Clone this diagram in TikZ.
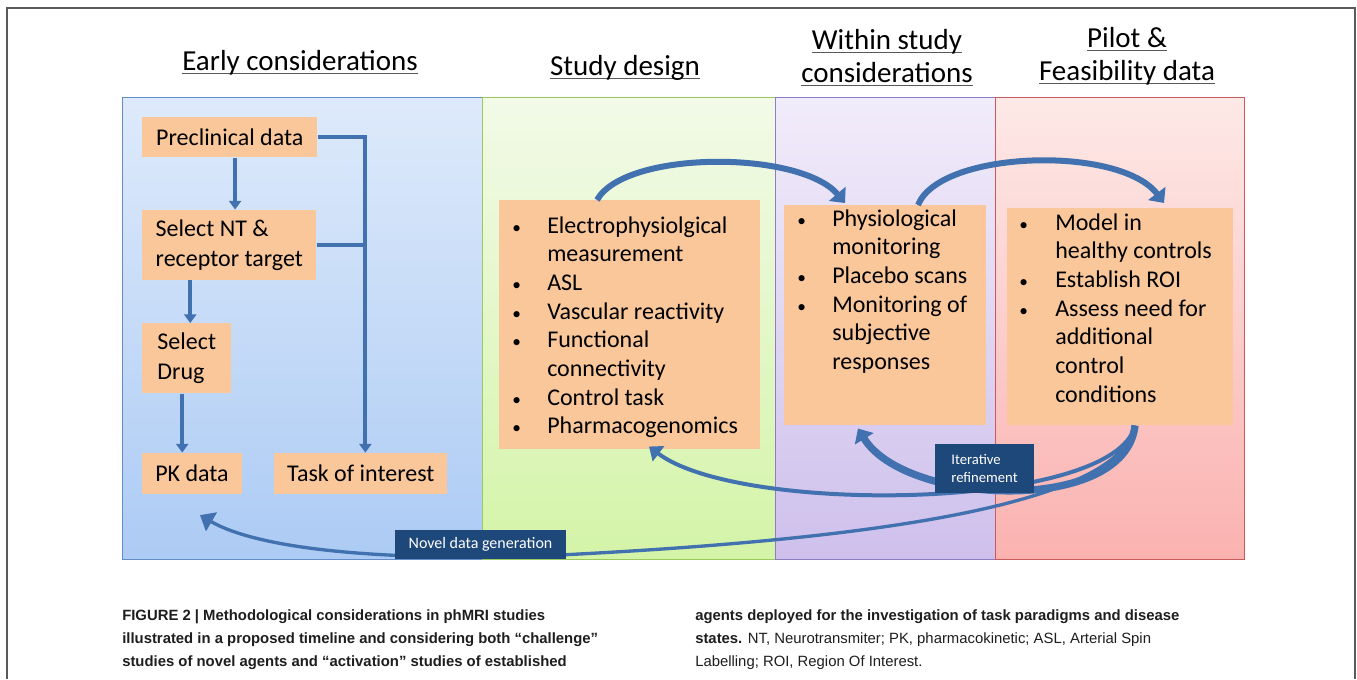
\documentclass[tikz,border=0pt]{standalone}
\usepackage{fontspec}
\setmainfont{Carlito}
\newfontfamily\capfont{Liberation Sans}
\usetikzlibrary{arrows.meta,positioning,calc}

\definecolor{earlytop}{RGB}{222,234,251}
\definecolor{earlybot}{RGB}{172,203,244}
\definecolor{earlyline}{RGB}{100,140,200}
\definecolor{designtop}{RGB}{242,250,232}
\definecolor{designbot}{RGB}{212,244,168}
\definecolor{designline}{RGB}{155,200,95}
\definecolor{withintop}{RGB}{241,236,250}
\definecolor{withinbot}{RGB}{206,192,236}
\definecolor{withinline}{RGB}{140,125,195}
\definecolor{pilottop}{RGB}{253,233,231}
\definecolor{pilotbot}{RGB}{250,178,176}
\definecolor{pilotline}{RGB}{205,90,90}
\definecolor{boxfill}{RGB}{249,199,154}
\definecolor{arrowblue}{RGB}{66,113,175}
\definecolor{tagblue}{RGB}{31,72,122}
\definecolor{framegray}{RGB}{90,90,90}
\definecolor{captext}{RGB}{30,30,30}

% underlined heading text
\newcommand{\hul}[1]{\setbox0\hbox{#1}\rlap{\color{black!65}\rule[-2.6pt]{\wd0}{0.9pt}}\box0}
% small list bullet
\newcommand{\bul}{{\fontsize{13pt}{13pt}\selectfont\textbullet}}

\tikzset{
  panel/.style={anchor=north west, inner sep=0pt, line width=1pt},
  stepbox/.style={fill=boxfill, anchor=north west, inner xsep=9.75pt, inner ysep=0pt, align=left, font=\fontsize{18pt}{22.5pt}\selectfont},
  listbox/.style={fill=boxfill, anchor=north west, inner sep=0pt, font=\fontsize{18pt}{21.5pt}\selectfont},
  head/.style={align=center, font=\fontsize{21.75pt}{24.75pt}\selectfont},
  flow/.style={draw=arrowblue, line width=3pt, -{Triangle[width=9pt,length=6.5pt]}},
  flowline/.style={draw=arrowblue, line width=3pt},
  swoop/.style={draw=arrowblue, line width=3.5pt, -{Triangle[width=16pt,length=9pt]}},
  tag/.style={fill=tagblue, text=white, inner sep=0pt, align=left},
  caption/.style={anchor=north west, inner sep=0pt, align=left, text=captext, font=\capfont\fontsize{11.15pt}{17.6pt}\selectfont}
}

\begin{document}
\begin{tikzpicture}[x=0.75pt, y=-0.75pt]
        \useasboundingbox (0,0) rectangle (1357,679);
        \fill[white] (0,0) rectangle (1357,679);
        \draw[framegray, line width=0.9pt] (7,679) |- (1355,8) -- (1355,679);

        % Panels
        \node[panel, top color=earlytop, bottom color=earlybot, draw=earlyline, minimum width=270pt, minimum height=346.5pt] (pEarly) at (122,97) {};
        \node[panel, top color=designtop, bottom color=designbot, draw=designline, minimum width=219.75pt, minimum height=346.5pt] (pDesign) at (482,97) {};
        \node[panel, top color=withintop, bottom color=withinbot, draw=withinline, minimum width=165pt, minimum height=346.5pt] (pWithin) at (775,97) {};
        \node[panel, top color=pilottop, bottom color=pilotbot, draw=pilotline, minimum width=186.75pt, minimum height=346.5pt] (pPilot) at (995,97) {};

        % Headings
        \node[head] (hEarly) at (300,63) {\hul{Early considerations}};
        \node[head] (hDesign) at (625,68) {\hul{Study design}};
        \node[head] (hWithin) at (887,58) {\hul{Within study}\\\hul{considerations}};
        \node[head] (hPilot) at (1127,56) {\hul{Pilot \&}\\\hul{Feasibility data}};

        % Early considerations
        \node[stepbox, minimum width=131.25pt, minimum height=30pt] (pre) at (142,117) {Preclinical data};
        \node[stepbox, below=39pt of pre.south west, anchor=north west, minimum width=130.5pt, minimum height=52.5pt] (nt) {Select NT \&\\receptor target};
        \node[stepbox, below=32.25pt of nt.south west, anchor=north west, minimum width=66.75pt, minimum height=52.5pt] (drug) {Select\\Drug};
        \node[stepbox, below=44.25pt of drug.south west, anchor=north west, minimum width=73.5pt, minimum height=30.75pt] (pk) {PK data};
        \node[stepbox, right=24pt of pk.north east, anchor=north west, minimum width=129.75pt, minimum height=30.75pt] (task) {Task of interest};
        \coordinate (drop) at ([xshift=3.4pt]task.north);

        % Bullet boxes
        \node[listbox, minimum width=195.75pt, text height=24.75pt, text depth=162pt] (design) at (499,200) {%
          \begin{tabular}[t]{@{\hspace{9.75pt}}p{26.25pt}@{}p{159.75pt}@{}}
          \bul & Electrophysiolgical\\
               & measurement\\
          \bul & ASL\\
          \bul & Vascular reactivity\\
          \bul & Functional\\
               & connectivity\\
          \bul & Control task\\
          \bul & Pharmacogenomics
          \end{tabular}};
        \node[listbox, minimum width=151.5pt, text height=15.75pt, text depth=149.25pt] (within) at (784,205) {%
          \begin{tabular}[t]{@{\hspace{9.75pt}}p{26.25pt}@{}p{115.5pt}@{}}
          \bul & Physiological\\
               & monitoring\\
          \bul & Placebo scans\\
          \bul & Monitoring of\\
               & subjective\\
               & responses
          \end{tabular}};
        \node[listbox, minimum width=169.5pt, text height=16.5pt, text depth=146.25pt] (pilot) at (1007,208) {%
          \begin{tabular}[t]{@{\hspace{9pt}}p{27pt}@{}p{133.5pt}@{}}
          \bul & Model in\\
               & healthy controls\\
          \bul & Establish ROI\\
          \bul & Assess need for\\
               & additional\\
               & control\\
               & conditions
          \end{tabular}};

        % Arrows (early considerations)
        \draw[flow] ([xshift=4pt]pre.south) -- ([xshift=4pt]pre.south |- nt.north);
        \draw[flow] ([xshift=2.6pt]drug.north |- nt.south) -- ([xshift=2.6pt]drug.north);
        \draw[flow] ([xshift=-3.4pt]drug.south) -- ([xshift=-3.4pt]drug.south |- pk.north);
        \draw[flow] (pre.east) -| (drop);
        \draw[flowline] (nt.east) -- (nt.east -| drop);

        % Arrows (timeline)
        \draw[swoop, line width=4.5pt] ($(design.north west)+(98,0)$) .. controls ($(design.north west)+(126,-50)$) and ($(within.north west)+(16,-55)$) .. ($(within.north west)+(61,-2)$);
        \draw[swoop, line width=4.5pt] ($(within.north west)+(134,0)$) .. controls ($(within.north west)+(156,-55)$) and ($(pilot.north west)+(113,-63)$) .. ($(pilot.north west)+(157,-5)$);
        \draw[swoop, line width=5.5pt] ($(pilot.south west)+(128,0)$) .. controls ($(pilot.south west)+(118,90)$) and ($(within.south west)+(121,80)$) .. ($(within.south west)+(74,3)$);
        \draw[swoop, line width=3pt, -{Triangle[width=14pt,length=9pt]}] ($(pilot.south west)+(128,0)$) .. controls ($(pilot.south west)+(108,85)$) and ($(design.south west)+(241,66)$) .. ($(design.south west)+(150,-3)$);
        \draw[swoop, line width=2.5pt, -{Triangle[width=16pt,length=10pt]}] ($(pilot.south west)+(128,0)$) .. controls ($(pilot.south west)+(113,75)$) and (900,538) .. (560,555) .. controls (390,562) and (260,550) .. ($(pk.south west)+(58,21)$);

        % Labels
        \node[tag, minimum width=128.25pt, minimum height=21.75pt, font=\fontsize{12pt}{14pt}\selectfont] (novel) at (480.5,544.5) {Novel data generation};
        \node[tag, minimum width=74.25pt, minimum height=36.75pt, font=\fontsize{11pt}{13.5pt}\selectfont] (iter) at (984.5,468.5) {Iterative\\refinement};

        % Caption
        \node[caption] (capL) at (122,609) {\textbf{FIGURE 2 | Methodological considerations in phMRI studies}\\\textbf{illustrated in a proposed timeline and considering both “challenge”}\\\textbf{studies of novel agents and “activation” studies of established}};
        \node[caption] (capR) at (695,609) {\textbf{agents deployed for the investigation of task paradigms and disease}\\\textbf{states.} NT, Neurotransmiter; PK, pharmacokinetic; ASL, Arterial Spin\\Labelling; ROI, Region Of Interest.};
\end{tikzpicture}
\end{document}
